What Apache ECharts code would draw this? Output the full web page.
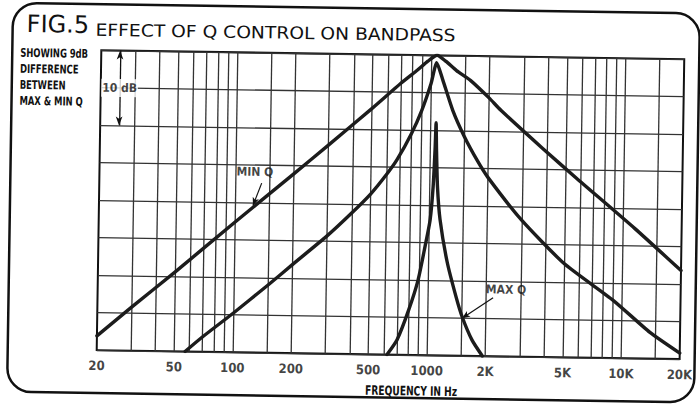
<!DOCTYPE html>
<html>
<head>
<meta charset="utf-8">
<script src="https://cdn.jsdelivr.net/npm/echarts@6/dist/echarts.min.js"></script>
<style>
  html, body { margin: 0; padding: 0; background: #fff; }
  #chart { width: 700px; height: 406px; transform: rotate(0.88deg); transform-origin: 350px 203px; }
</style>
</head>
<body>
<div id="chart"></div>
<script>
// Frequency axis: labelled frequencies and the log-grid frequencies (Hz)
const tickFreqs = [20, 50, 100, 200, 500, 1000, 2000, 5000, 10000, 20000];
const tickLabels = ['20', '50', '100', '200', '500', '1000', '2K', '5K', '10K', '20K'];
const gridFreqs = [30, 40, 50, 60, 70, 80, 90, 100, 150, 200, 300, 400, 500, 600, 700, 800, 900,
  1000, 1500, 2000, 3000, 4000, 5000, 6000, 7000, 8000, 9000, 10000, 15000];

// Response curves: [frequency Hz, relative level dB]
const minQ = [[20, -38.1], [30, -34.2], [50, -29.4], [100, -22.7], [200, -16.1], [300, -12.2],
  [500, -7.2], [700, -3.8], [850, -2.0], [960, -0.8], [1070, 0], [1190, -0.8], [1350, -2.0],
  [1600, -3.3], [2000, -5.6], [2300, -7.2], [3800, -12.2], [5700, -16.1], [11500, -22.7], [20000, -28.2]];
const midQ = [[57, -40], [70, -38.0], [100, -34.8], [150, -31.0], [200, -28.2], [300, -24.3],
  [400, -21.2], [500, -18.6], [600, -16.0], [678, -14.0], [800, -10.5], [900, -7.4], [1000, -3.8],
  [1066, -1.0], [1150, -3.3], [1300, -7.3], [1500, -10.8], [1750, -13.9], [2000, -16.2],
  [3000, -21.8], [5000, -27.5], [9000, -32.3], [14000, -36.5], [20000, -39.2]];
const maxQ = [[624, -40], [701, -38.0], [800, -34.0], [889, -30.0], [960, -25.5], [1014, -22.0],
  [1045, -17.5], [1062, -12.5], [1070, -9.0], [1080, -12.5], [1100, -17.5], [1141, -21.9],
  [1250, -27.5], [1400, -32.2], [1508, -34.8], [1704, -37.9], [1930, -40]];

const lineColor = '#1c1c1c';
const gridColor = '#333';
const condensed = '"Liberation Sans Narrow", "DejaVu Sans Condensed", sans-serif';

const chart = echarts.init(document.getElementById('chart'), null, { renderer: 'svg' });

const curve = (name, data) => ({
  name, type: 'line', data, showSymbol: false, smooth: 0.2,
  lineStyle: { color: lineColor, width: 3.4, cap: 'round', join: 'round' }, z: 5, silent: true
});

chart.setOption({
  animation: false,
  backgroundColor: '#fff',
  grid: { left: 99, right: 18, top: 54, bottom: 52, show: true, borderColor: '#111', borderWidth: 2, backgroundColor: 'transparent' },
  xAxis: {
    type: 'log', logBase: 10, min: 20, max: 20000,
    axisLine: { show: false }, axisTick: { show: false }, axisLabel: { show: false }, splitLine: { show: false }
  },
  yAxis: {
    type: 'value', min: -40, max: 0, interval: 5,
    axisLine: { show: false }, axisTick: { show: false }, axisLabel: { show: false },
    splitLine: { show: true, lineStyle: { color: gridColor, width: 1.3 } }
  },
  series: [
    {
      name: 'grid', type: 'line', data: [], silent: true,
      markLine: {
        silent: true, symbol: 'none', label: { show: false },
        lineStyle: { color: gridColor, width: 1.3, type: 'solid' },
        data: gridFreqs.map(f => ({ xAxis: f }))
      }
    },
    curve('MIN Q', minQ),
    curve('MID Q', midQ),
    curve('MAX Q', maxQ),
    {
      name: 'ticks', type: 'scatter', symbolSize: 0, silent: true, clip: false,
      data: tickFreqs.map((f, i) => ({ value: [f, -40], label: { formatter: tickLabels[i] } })),
      label: { show: true, position: 'bottom', distance: 9, color: '#111', fontFamily: condensed, fontWeight: 'bold', fontSize: 13 }
    },
    {
      name: 'scale', type: 'line', data: [], silent: true, z: 6,
      markLine: {
        silent: true, symbol: ['arrow', 'arrow'], symbolSize: [5, 9], label: { show: false },
        lineStyle: { color: '#111', width: 1.3, type: 'solid' },
        data: [[{ coord: [25, 0] }, { coord: [25, -10] }]]
      }
    },
    {
      name: 'pointers', type: 'line', data: [], silent: true, z: 7,
      markLine: {
        silent: true, symbol: ['none', 'arrow'], symbolSize: [5, 8], label: { show: false },
        lineStyle: { color: '#111', width: 1.2, type: 'solid' },
        data: [
          [{ coord: [137, -17.4] }, { coord: [124, -20.4] }],
          [{ coord: [2170, -32.2] }, { coord: [1508, -35.0] }]
        ]
      }
    },
    {
      name: 'notes', type: 'scatter', symbolSize: 0, silent: true, clip: false, z: 8,
      data: [
        { value: [25, -5], label: { formatter: '10 dB', backgroundColor: '#fff', padding: [3, 1] } },
        { value: [126, -15.9], label: { formatter: 'MIN Q' } },
        { value: [2526, -31.1], label: { formatter: 'MAX Q' } }
      ],
      label: { show: true, position: 'inside', color: '#111', fontFamily: condensed, fontWeight: 'bold', fontSize: 12 }
    }
  ],
  graphic: [
    { type: 'rect', shape: { x: 10, y: 8, width: 687, height: 389, r: 24 }, style: { fill: 'none', stroke: '#111', lineWidth: 2.5 }, silent: true },
    { type: 'text', x: 24, y: 29, style: { text: 'FIG.5', font: '24px "DejaVu Sans", sans-serif', fill: '#111', textVerticalAlign: 'middle' } },
    { type: 'text', x: 93, y: 33.5, scaleX: 1.1, style: { text: 'EFFECT OF Q CONTROL ON BANDPASS', font: '17px "DejaVu Sans", sans-serif', fill: '#111', textVerticalAlign: 'middle' } },
    { type: 'text', x: 18, y: 50, scaleX: 0.78, style: { text: 'SHOWING 9dB\nDIFFERENCE\nBETWEEN\nMAX & MIN Q', font: 'bold 12px ' + condensed, lineHeight: 16, fill: '#111', textVerticalAlign: 'top' } },
    { type: 'text', x: 368, y: 390, scaleX: 0.78, style: { text: 'FREQUENCY IN Hz', font: 'bold 13px ' + condensed, fill: '#111', textVerticalAlign: 'middle' } }
  ]
});
</script>
</body>
</html>
